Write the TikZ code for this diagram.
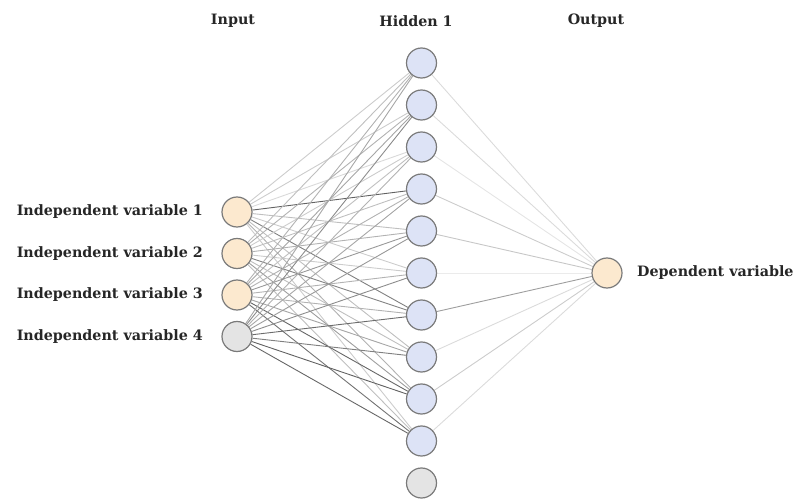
\documentclass[tikz,border=0pt]{standalone}
\usepackage{fontspec}
\setmainfont{DejaVu Serif}
\usetikzlibrary{backgrounds}
\definecolor{inpfill}{HTML}{FCE9CF}
\definecolor{hidfill}{HTML}{DDE3F6}
\definecolor{biasfill}{HTML}{E4E4E4}
\definecolor{ringcol}{HTML}{7A7A7A}
\begin{document}
\begin{tikzpicture}[x=1pt,y=-1pt,
  neuron/.style={circle,draw=ringcol,line width=1.2pt,minimum size=30pt,inner sep=0pt},
  inpnode/.style={neuron,fill=inpfill},
  hidnode/.style={neuron,fill=hidfill},
  biasnode/.style={neuron,fill=biasfill},
  lab/.style={font=\bfseries\fontsize{14.3}{16}\selectfont,text=black!85,inner sep=0pt},
  edge/.style={line width=0.9pt}
]
\useasboundingbox (0,0) rectangle (796,500);

% headers
\node[lab] (hin) at (233,21) {Input};
\node[lab] (hhid) at (416,21) {Hidden 1};
\node[lab] (hout) at (596,21) {Output};

% input layer
\node[inpnode] (i1) at (237,212) {};
\node[inpnode] (i2) at (237,253.5) {};
\node[inpnode] (i3) at (237,295) {};
\node[biasnode] (i4) at (237,336.5) {};

\node[lab,anchor=east] (l1) at (203,212) {Independent variable 1};
\node[lab,anchor=east] (l2) at (203,253.5) {Independent variable 2};
\node[lab,anchor=east] (l3) at (203,295) {Independent variable 3};
\node[lab,anchor=east] (l4) at (203,336.5) {Independent variable 4};

% hidden layer
\foreach \j in {1,...,10} {
  \node[hidnode] (h\j) at (421.5,{63+42*(\j-1)}) {};
}
\node[biasnode] (h11) at (421.5,483) {};

% output
\node[inpnode] (o) at (607,273) {};
\node[lab,anchor=west] (lo) at (637,273) {Dependent variable};

\begin{scope}[on background layer]
  \foreach \i/\ws in {1/{20,20,15,62,25,20,50,25,30,20},
                      2/{25,30,20,25,30,20,50,25,38,25},
                      3/{30,35,25,30,40,30,30,35,60,55},
                      4/{35,45,30,35,40,45,58,50,62,60}} {
    \foreach \w [count=\j] in \ws {
      \draw[edge,black!\w] (i\i) -- (h\j);
    }
  }
  \foreach \w [count=\j] in {14,14,10,20,22,8,38,14,20,14} {
    \draw[edge,black!\w] (h\j) -- (o);
  }
\end{scope}
\end{tikzpicture}
\end{document}
